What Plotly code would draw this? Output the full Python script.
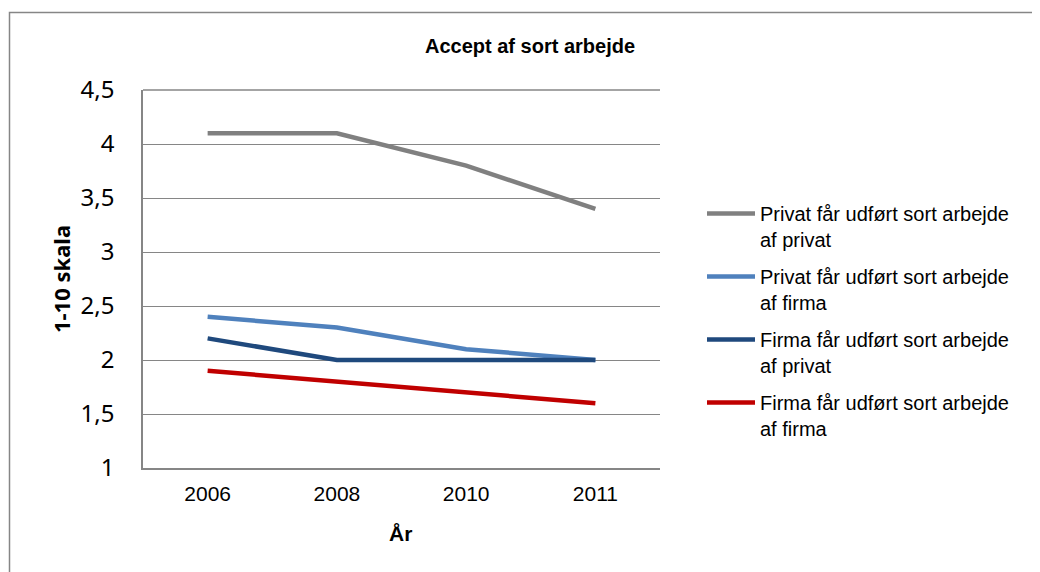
import plotly.graph_objects as go

years = ["2006", "2008", "2010", "2011"]
series_names = [
    "Privat får udført sort arbejde<br>af privat",
    "Privat får udført sort arbejde<br>af firma",
    "Firma får udført sort arbejde<br>af privat",
    "Firma får udført sort arbejde<br>af firma",
]
privat_af_privat = [4.1, 4.1, 3.8, 3.4]
privat_af_firma = [2.4, 2.3, 2.1, 2.0]
firma_af_privat = [2.2, 2.0, 2.0, 2.0]
firma_af_firma = [1.9, 1.8, 1.7, 1.6]
colors = ["#808080", "#4F81BD", "#1F497D", "#C00000"]
y_ticks = [1, 1.5, 2, 2.5, 3, 3.5, 4, 4.5]

fig = go.Figure()
for i, (name, vals) in enumerate(zip(series_names,
                                     [privat_af_privat, privat_af_firma, firma_af_privat, firma_af_firma])):
    fig.add_trace(go.Scatter(x=years, y=vals, mode="lines", name=name,
                             legendgroup=f"g{i}",
                             line=dict(color=colors[i], width=4.5)))

# page body has an 8px margin: work in reference-pixel coords, shift by OFF
OFF = 8
W, H = 1040 - OFF, 572 - OFF
L, R, T, B = 143 - OFF, 660 - OFF, 90 - OFF, 468 - OFF
pw, ph = R - L, B - T

def px_x(x):
    return (x - OFF - L) / pw

def px_y(y):
    return (B - (y - OFF)) / ph

SANS = "Liberation Sans, Arial, sans-serif"
fig.update_layout(
    width=W, height=H,
    margin=dict(l=L, r=W - R, t=T, b=H - B, pad=0),
    paper_bgcolor="white", plot_bgcolor="white",
    separators=",.",
    font=dict(family=SANS, color="black"),
    title=dict(text="<b>Accept af sort arbejde</b>", x=(530 - OFF) / W, xref="container",
               y=1 - (46 - OFF) / H, yref="container", xanchor="center", yanchor="middle",
               font=dict(size=20, family=SANS)),
    showlegend=True,
    legend=dict(x=px_x(702), y=px_y(194), xanchor="left", yanchor="top",
                font=dict(size=20, family=SANS), tracegroupgap=8, itemwidth=48,
                valign="top", bgcolor="rgba(0,0,0,0)"),
    xaxis=dict(type="category", showgrid=False, showline=True, linecolor="#868686",
               linewidth=1.5, ticks="", tickfont=dict(size=21, family=SANS),
               ticklabelstandoff=6, range=[-0.5, 3.5], fixedrange=True),
    yaxis=dict(range=[1, 4.5], tickvals=y_ticks, showgrid=True, gridcolor="#868686",
               gridwidth=1.3, showline=True, linecolor="#868686", linewidth=1.5,
               ticks="", tickfont=dict(size=24, family="Noto Sans, Open Sans, sans-serif"),
               ticklabelstandoff=22, zeroline=False),
    annotations=[
        dict(text="<b>1-10 skala</b>", x=px_x(61), y=0.5, xref="paper", yref="paper",
             textangle=-90, showarrow=False,
             font=dict(size=22, family="Noto Sans, Open Sans, sans-serif"),
             xanchor="center", yanchor="middle"),
        dict(text="<b>År</b>", x=px_x(400), y=px_y(533), xref="paper", yref="paper",
             showarrow=False, font=dict(size=21, family=SANS),
             xanchor="center", yanchor="middle"),
    ],
    shapes=[
        dict(type="rect", xref="paper", yref="paper",
             x0=px_x(9.5), x1=px_x(1060), y0=px_y(590), y1=px_y(12.5),
             line=dict(color="#868686", width=1.5), fillcolor="rgba(0,0,0,0)", layer="below"),
        dict(type="line", xref="paper", yref="paper", x0=0, x1=1, y0=1, y1=1,
             line=dict(color="#868686", width=1.5)),
    ],
)

fig.write_html("out.html")
